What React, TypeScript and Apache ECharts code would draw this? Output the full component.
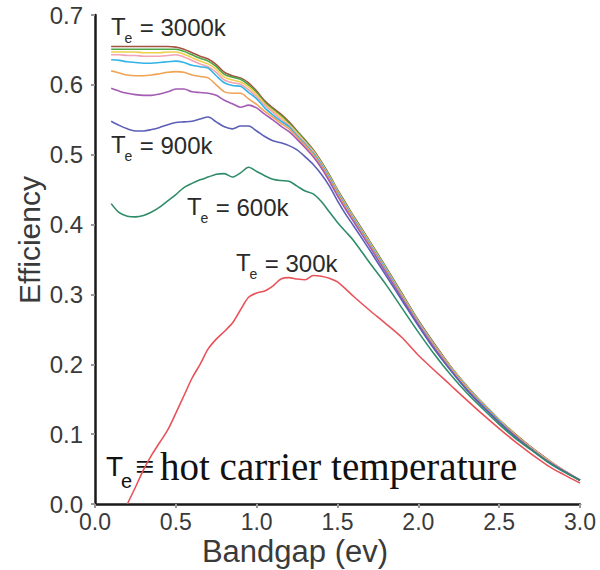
import React, { useEffect, useRef } from "react";
import * as echarts from "echarts";

// Bandgap grid (eV) shared by the 600k..3000k curves
const X = [
  0.1, 0.15, 0.2, 0.25, 0.3, 0.35, 0.4, 0.45, 0.5, 0.55, 0.6, 0.65, 0.7, 0.75, 0.8, 0.85, 0.9, 0.95,
  1.0, 1.05, 1.1, 1.15, 1.2, 1.25, 1.3, 1.35, 1.4, 1.45, 1.5, 1.55, 1.6,
  1.7, 1.8, 1.9, 2.0, 2.1, 2.2, 2.3, 2.4, 2.5, 2.6, 2.7, 2.8, 2.9, 3.0,
];

const TE3000 = [
  0.655, 0.655, 0.655, 0.655, 0.655, 0.655, 0.655, 0.655,
  0.654, 0.651, 0.646, 0.641, 0.637, 0.629, 0.618, 0.613, 0.61, 0.603,
  0.591, 0.577, 0.567, 0.558, 0.547, 0.534, 0.521, 0.507, 0.49, 0.471, 0.45, 0.431, 0.412,
  0.376, 0.339, 0.301, 0.263, 0.229, 0.197, 0.169, 0.144, 0.121, 0.1, 0.081, 0.064, 0.048, 0.034,
];
const TE2700 = [
  0.651, 0.651, 0.651, 0.651, 0.651, 0.651, 0.651, 0.651,
  0.651, 0.648, 0.643, 0.638, 0.634, 0.626, 0.615, 0.611, 0.608, 0.6,
  0.589, 0.575, 0.565, 0.556, 0.545, 0.533, 0.52, 0.506, 0.489, 0.47, 0.449, 0.43, 0.411,
  0.375, 0.338, 0.3, 0.262, 0.228, 0.196, 0.168, 0.143, 0.12, 0.099, 0.08, 0.063, 0.048, 0.034,
];
const TE2400 = [
  0.647, 0.647, 0.647, 0.647, 0.646, 0.646, 0.646, 0.647,
  0.647, 0.644, 0.639, 0.634, 0.63, 0.622, 0.611, 0.607, 0.604, 0.597,
  0.586, 0.573, 0.563, 0.554, 0.543, 0.531, 0.518, 0.505, 0.488, 0.469, 0.448, 0.429, 0.41,
  0.374, 0.337, 0.299, 0.261, 0.227, 0.196, 0.168, 0.143, 0.12, 0.099, 0.08, 0.063, 0.048, 0.034,
];
const TE2100 = [
  0.643, 0.643, 0.642, 0.642, 0.641, 0.641, 0.641, 0.642,
  0.643, 0.64, 0.635, 0.63, 0.626, 0.618, 0.607, 0.603, 0.601, 0.593,
  0.583, 0.571, 0.561, 0.551, 0.542, 0.529, 0.517, 0.504, 0.487, 0.468, 0.447, 0.428, 0.409,
  0.373, 0.336, 0.298, 0.261, 0.227, 0.195, 0.167, 0.142, 0.119, 0.098, 0.08, 0.063, 0.048, 0.034,
];
const TE1800 = [
  0.636, 0.635, 0.633, 0.632, 0.631, 0.631, 0.632, 0.633,
  0.634, 0.632, 0.628, 0.626, 0.624, 0.613, 0.603, 0.599, 0.598, 0.589,
  0.58, 0.567, 0.557, 0.548, 0.54, 0.527, 0.515, 0.502, 0.486, 0.467, 0.446, 0.427, 0.408,
  0.372, 0.335, 0.297, 0.26, 0.226, 0.195, 0.167, 0.142, 0.119, 0.098, 0.079, 0.062, 0.047, 0.034,
];
const TE1500 = [
  0.62, 0.617, 0.614, 0.613, 0.613, 0.614, 0.616, 0.618,
  0.619, 0.618, 0.614, 0.612, 0.61, 0.6, 0.59, 0.588, 0.588, 0.58,
  0.572, 0.562, 0.554, 0.545, 0.537, 0.525, 0.513, 0.5, 0.484, 0.465, 0.444, 0.425, 0.406,
  0.37, 0.333, 0.296, 0.259, 0.225, 0.194, 0.166, 0.141, 0.118, 0.098, 0.079, 0.062, 0.047, 0.034,
];
const TE1200 = [
  0.595, 0.591, 0.588, 0.586, 0.585, 0.585, 0.587, 0.59,
  0.594, 0.594, 0.59, 0.589, 0.588, 0.585, 0.578, 0.573, 0.568, 0.571,
  0.567, 0.558, 0.55, 0.541, 0.533, 0.522, 0.51, 0.497, 0.481, 0.462, 0.441, 0.422, 0.404,
  0.368, 0.331, 0.294, 0.257, 0.223, 0.192, 0.164, 0.14, 0.117, 0.097, 0.078, 0.061, 0.047, 0.034,
];
const TE900 = [
  0.548, 0.542, 0.537, 0.534, 0.534, 0.536, 0.539, 0.543,
  0.546, 0.547, 0.548, 0.551, 0.554, 0.547, 0.54, 0.537, 0.541, 0.541,
  0.534, 0.526, 0.52, 0.517, 0.513, 0.507, 0.497, 0.486, 0.472, 0.455, 0.434, 0.415, 0.398,
  0.363, 0.327, 0.291, 0.255, 0.221, 0.191, 0.163, 0.139, 0.117, 0.096, 0.078, 0.061, 0.047, 0.034,
];
const TE600 = [
  0.43, 0.417, 0.412, 0.411, 0.413, 0.418, 0.425, 0.434,
  0.443, 0.453, 0.459, 0.464, 0.468, 0.472, 0.473, 0.468, 0.474, 0.482,
  0.476, 0.47, 0.465, 0.463, 0.462, 0.455, 0.448, 0.444, 0.433, 0.418, 0.403, 0.39, 0.377,
  0.345, 0.314, 0.28, 0.246, 0.214, 0.185, 0.159, 0.136, 0.114, 0.094, 0.077, 0.06, 0.046, 0.034,
];

// 300k curve has its own bandgap grid
const X300 = [
  0.2, 0.25, 0.3, 0.35, 0.4, 0.45, 0.5, 0.55, 0.6, 0.65, 0.7, 0.75, 0.8, 0.85, 0.9, 0.95,
  1.0, 1.05, 1.1, 1.15, 1.2, 1.25, 1.3, 1.35, 1.4, 1.45, 1.5,
  1.6, 1.7, 1.8, 1.9, 2.0, 2.2, 2.4, 2.6, 2.8, 2.9, 3.0,
];
const TE300 = [
  0, 0.024, 0.049, 0.07, 0.088, 0.106, 0.13, 0.155, 0.18, 0.2,
  0.222, 0.236, 0.247, 0.259, 0.278, 0.296, 0.302, 0.305, 0.312, 0.322,
  0.324, 0.322, 0.321, 0.327, 0.326, 0.323, 0.318,
  0.297, 0.277, 0.258, 0.238, 0.213, 0.17, 0.128, 0.089, 0.055, 0.042, 0.03,
];

const X_TICKS = [0, 0.5, 1.0, 1.5, 2.0, 2.5, 3.0];
const Y_TICKS = [0, 0.1, 0.2, 0.3, 0.4, 0.5, 0.6, 0.7];

const SERIES_DEFS = [
  { name: "3000k", xs: X, ys: TE3000, color: "#a4533f" },
  { name: "2700k", xs: X, ys: TE2700, color: "#4ea64a" },
  { name: "2400k", xs: X, ys: TE2400, color: "#f0d048" },
  { name: "2100k", xs: X, ys: TE2100, color: "#f3a3b6" },
  { name: "1800k", xs: X, ys: TE1800, color: "#32b4e6" },
  { name: "1500k", xs: X, ys: TE1500, color: "#f0a255" },
  { name: "1200k", xs: X, ys: TE1200, color: "#a45bb4" },
  { name: "900k", xs: X, ys: TE900, color: "#5b5fb6" },
  { name: "600k", xs: X, ys: TE600, color: "#2f8c68" },
  { name: "300k", xs: X300, ys: TE300, color: "#e8535a" },
];

const SANS = "Liberation Sans, Arial, Helvetica, sans-serif";
const SERIF = "Liberation Serif, Times New Roman, serif";

function teLabel(x: number, y: number, rest: string, size = 24) {
  return [
    { type: "text", x, y, style: { text: "T", font: `${size}px ${SANS}`, fill: "#2a2a2a", align: "left", verticalAlign: "middle" } },
    { type: "text", x: x + size * 0.56, y: y + size * 0.52, style: { text: "e", font: `${Math.round(size * 0.58)}px ${SANS}`, fill: "#2a2a2a", align: "left", verticalAlign: "middle" } },
    { type: "text", x: x + size * 1.2, y: y + 1, style: { text: rest, font: `${size}px ${SANS}`, fill: "#2a2a2a", align: "left", verticalAlign: "middle" } },
  ];
}

export default function App() {
  const ref = useRef<HTMLDivElement>(null);
  useEffect(() => {
    document.body.style.margin = "0";
    if (!ref.current) return;
    const chart = echarts.init(ref.current, null, { renderer: "svg" });
    const option: any = {
      animation: false,
      backgroundColor: "#ffffff",
      grid: { left: 95, right: 20, top: 15, bottom: 66, containLabel: false },
      xAxis: {
        type: "value",
        min: 0,
        max: 3,
        interval: 0.5,
        axisLine: { show: true, onZero: false, lineStyle: { color: "#1a1a1a", width: 2.5 } },
        axisTick: { show: true, length: 4, lineStyle: { color: "#999", width: 2 } },
        axisLabel: {
          margin: 6,
          color: "#3a3a3a",
          fontSize: 23,
          fontFamily: SANS,
          formatter: (v: number) => (X_TICKS.includes(v) ? v.toFixed(1) : ""),
        },
        splitLine: { show: false },
      },
      yAxis: {
        type: "value",
        min: 0,
        max: 0.7,
        interval: 0.1,
        axisLine: { show: true, onZero: false, lineStyle: { color: "#1a1a1a", width: 2.5 } },
        axisTick: { show: true, length: 4, lineStyle: { color: "#999", width: 2 } },
        axisLabel: {
          margin: 12,
          color: "#3a3a3a",
          fontSize: 24,
          fontFamily: SANS,
          formatter: (v: number) => {
            const t = Y_TICKS.find((k) => Math.abs(k - v) < 1e-6);
            return t === undefined ? "" : t.toFixed(1);
          },
        },
        splitLine: { show: false },
      },
      series: SERIES_DEFS.map((s) => ({
        name: s.name,
        type: "line",
        data: s.xs.map((x, i) => [x, s.ys[i]]),
        showSymbol: false,
        smooth: 0.3,
        lineStyle: { color: s.color, width: 1.6 },
        itemStyle: { color: s.color },
      })),
      graphic: [
        { type: "text", x: 29, y: 240, rotation: Math.PI / 2, style: { text: "Efficiency", font: `30px ${SANS}`, fill: "#3a3a3a", align: "center", verticalAlign: "middle" } },
        { type: "text", x: 295, y: 551, style: { text: "Bandgap (ev)", font: `31px ${SANS}`, fill: "#3a3a3a", align: "center", verticalAlign: "middle" } },
        ...teLabel(111, 26, "= 3000k"),
        ...teLabel(111, 144, "= 900k"),
        ...teLabel(187, 206, "= 600k"),
        ...teLabel(236, 262, "= 300k"),
        { type: "text", x: 106, y: 466, style: { text: "T", font: `28px ${SANS}`, fill: "#111", align: "left", verticalAlign: "middle" } },
        { type: "text", x: 121, y: 481, style: { text: "e", font: `20px ${SANS}`, fill: "#111", align: "left", verticalAlign: "middle" } },
        { type: "text", x: 135, y: 466, style: { text: "≡", font: `34px ${SERIF}`, fill: "#111", align: "left", verticalAlign: "middle" } },
        { type: "text", x: 160, y: 466, style: { text: "hot carrier temperature", font: `39px ${SERIF}`, fill: "#111", align: "left", verticalAlign: "middle" } },
      ],
    };
    chart.setOption(option);
    return () => chart.dispose();
  }, []);
  return <div ref={ref} style={{ width: 600, height: 570 }} />;
}
